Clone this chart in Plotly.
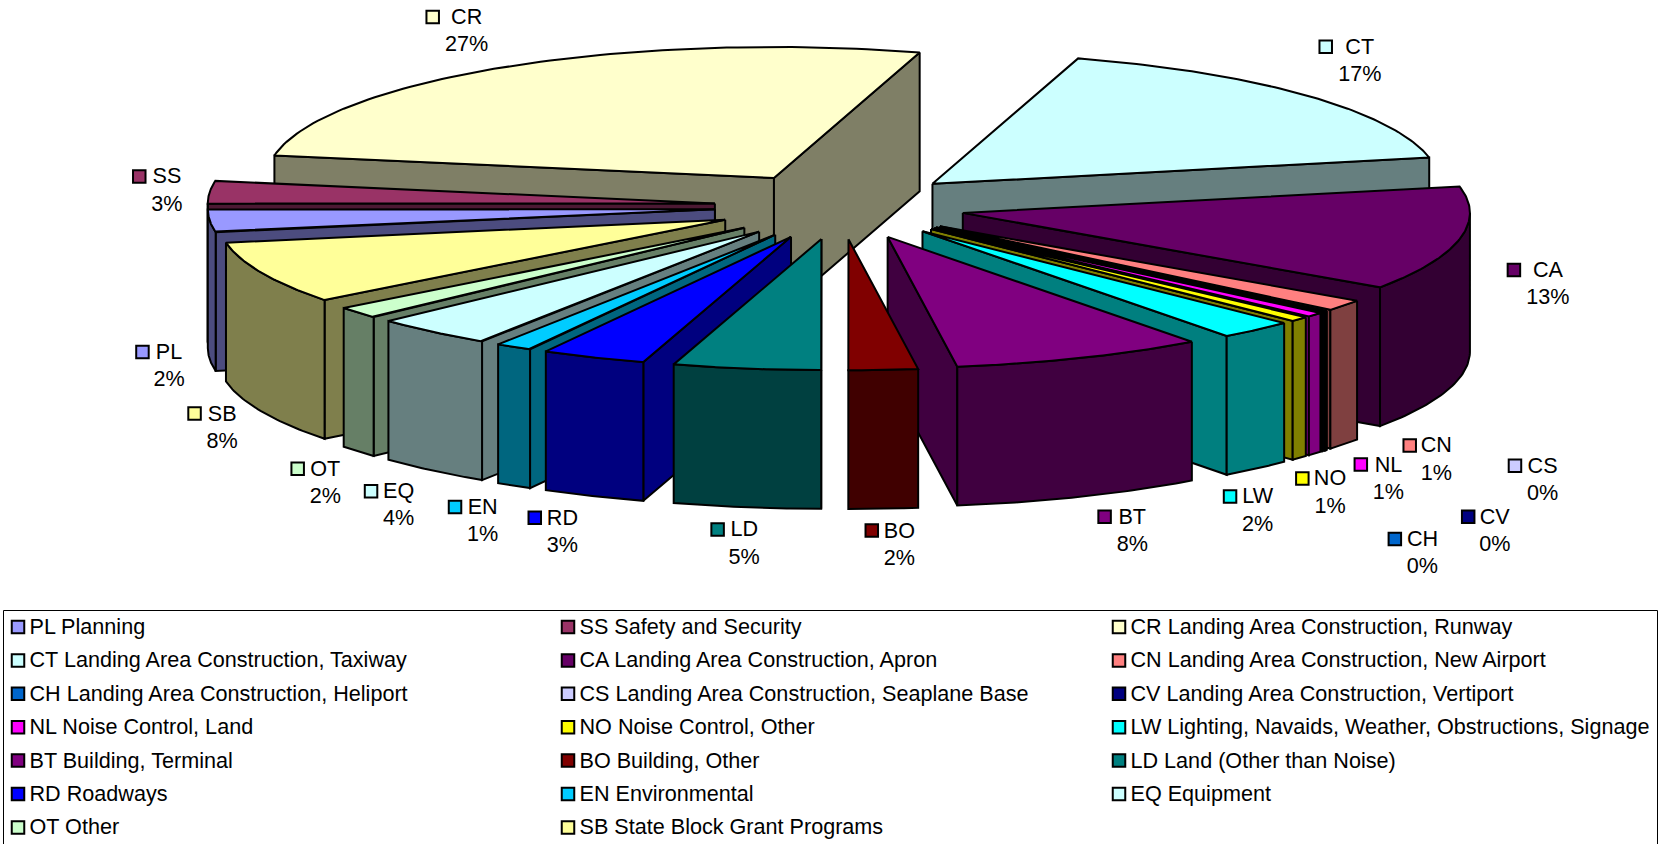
import numpy as np
import plotly.graph_objects as go

# ---------- data ----------
codes = ["PL","SS","CR","CT","CA","CN","CH","CS","CV","NL","NO","LW","BT","BO","LD","RD","EN","EQ","OT","SB"]
names = ["Planning","Safety and Security","Landing Area Construction, Runway","Landing Area Construction, Taxiway",
         "Landing Area Construction, Apron","Landing Area Construction, New Airport","Landing Area Construction, Heliport",
         "Landing Area Construction, Seaplane Base","Landing Area Construction, Vertiport","Noise Control, Land",
         "Noise Control, Other","Lighting, Navaids, Weather, Obstructions, Signage","Building, Terminal","Building, Other",
         "Land (Other than Noise)","Roadways","Environmental","Equipment","Other","State Block Grant Programs"]
values = [2.78,2.78,26.9,17.15,12.85,1.39,0.05,0.05,0.1,0.55,0.6,2.4,8.05,2.2,4.7,3.33,1.17,3.85,1.45,7.7]
percent_labels = ["2%","3%","27%","17%","13%","1%","0%","0%","0%","1%","1%","2%","8%","2%","5%","3%","1%","4%","2%","8%"]
colors = ["#9999FF","#993366","#FFFFCC","#CCFFFF","#660066","#FF8080","#0066CC","#CCCCFF","#000080","#FF00FF",
          "#FFFF00","#00FFFF","#800080","#800000","#008080","#0000FF","#00CCFF","#CCFFFF","#CCFFCC","#FFFF99"]

# ---------- layout constants (page pixels) ----------
S = 1667 / 1568
CX, CY, RADIUS, TILT, EXPLODE, EXPLODE_Y, DEPTH = 790*S, 194*S, 477*S, 0.2583, 118*S, 31.2*S, 130.5*S
START_DEG = -100.1
FONT = "Liberation Sans, Arial, sans-serif"
FS = 21.6
LW = 2
TEXT_DY = 1.6

label_key_x = [134,131,407,1247,1424,1326,1312,1425,1381,1280,1225,1157,1039,820,675,503,428,349,280,183]
label_x     = [159,157,439,1279,1456,1351,1338,1451,1406,1306,1251,1183,1065,846,700,529,454,375,306,209]
label_y     = [331,166,16,44,254,419,507,438,486,437,450,467,486,499,498,487,477,462,441,389]
PCT_DY = 25.5

legend_cols = [18, 568, 1119]
legend_text_dx = 11.5
legend_rows_y0, legend_row_step = 627, 33.4
legend_box = (3.5, 610.5, 1657.5, 850)


def darken(hex_color, f=0.5):
    r, g, b = (int(hex_color[i:i+2], 16) for i in (1, 3, 5))
    return "rgb(%d,%d,%d)" % (r*f, g*f, b*f)


def proj(rad, deg, mid):
    """ground position of a point on a slice, to page pixels"""
    t, m = np.radians(deg), np.radians(mid)
    x = CX + EXPLODE*np.sin(m) + rad*np.sin(t)
    y = CY - EXPLODE_Y*np.cos(m) - TILT*rad*np.cos(t)
    return x, y


fig = go.Figure()


def poly(xs, ys, fill):
    xs, ys = list(xs), list(ys)
    fig.add_trace(go.Scatter(x=xs+xs[:1], y=ys+ys[:1], mode="lines", fill="toself", fillcolor=fill,
                             line=dict(color="black", width=LW), hoverinfo="skip", showlegend=False))


total = sum(values)
edges = START_DEG + np.concatenate([[0], np.cumsum(values)]) / total * 360
slices = []
for i in range(len(values)):
    a0, a1 = edges[i], edges[i+1]
    slices.append((i, a0, a1, (a0+a1)/2))
slices.sort(key=lambda s: -np.cos(np.radians(s[3])))

for i, a0, a1, mid in slices:
    col, dark = colors[i], darken(colors[i])
    ax, ay = proj(0, 0, mid)
    # radial walls facing the viewer
    for edge, normal in ((a0, a0-90), (a1, a1+90)):
        if np.cos(np.radians(normal)) < 0:
            rx, ry = proj(RADIUS, edge, mid)
            poly([ax, rx, rx, ax], [ay, ry, ry+DEPTH, ay+DEPTH], dark)
    # curved outer wall, front half only
    for lo, hi in ((-270, -90), (90, 270)):
        b0, b1 = max(a0, lo), min(a1, hi)
        if b1 > b0:
            ts = np.linspace(b0, b1, 40)
            xs, ys = proj(RADIUS, ts, mid)
            poly(np.r_[xs, xs[::-1]], np.r_[ys, ys[::-1]+DEPTH], dark)
    # top
    ts = np.linspace(a0, a1, 80)
    xs, ys = proj(RADIUS, ts, mid)
    poly(np.r_[ax, xs], np.r_[ay, ys], col)

# data label keys and text
fig.add_trace(go.Scatter(x=[v*S for v in label_key_x], y=[v*S for v in label_y], mode="markers",
                         marker=dict(symbol="square", size=12.5, color=colors, line=dict(color="black", width=2)),
                         hoverinfo="skip", showlegend=False))
fig.add_trace(go.Scatter(x=[v*S for v in label_x], y=[v*S+TEXT_DY for v in label_y], mode="text", text=codes,
                         textposition="middle center", textfont=dict(family=FONT, size=FS, color="black"),
                         hoverinfo="skip", showlegend=False))
fig.add_trace(go.Scatter(x=[v*S for v in label_x], y=[(v+PCT_DY)*S+TEXT_DY for v in label_y], mode="text", text=percent_labels,
                         textposition="middle center", textfont=dict(family=FONT, size=FS, color="black"),
                         hoverinfo="skip", showlegend=False))

# legend
lx = [legend_cols[i % 3] for i in range(len(codes))]
ly = [legend_rows_y0 + (i//3)*legend_row_step for i in range(len(codes))]
fig.add_trace(go.Scatter(x=lx, y=ly, mode="markers",
                         marker=dict(symbol="square", size=12.5, color=colors, line=dict(color="black", width=2)),
                         hoverinfo="skip", showlegend=False))
fig.add_trace(go.Scatter(x=[v+legend_text_dx for v in lx], y=[v+TEXT_DY for v in ly], mode="text",
                         text=[f"{c} {n}" for c, n in zip(codes, names)], textposition="middle right",
                         textfont=dict(family=FONT, size=FS, color="black"), hoverinfo="skip", showlegend=False))

fig.update_layout(
    width=1667, height=844, margin=dict(l=0, r=0, t=0, b=0), paper_bgcolor="white", plot_bgcolor="white",
    xaxis=dict(range=[0, 1667], visible=False, fixedrange=True),
    yaxis=dict(range=[844, 0], visible=False, fixedrange=True),
    shapes=[dict(type="rect", xref="x", yref="y", x0=legend_box[0], y0=legend_box[1], x1=legend_box[2], y1=legend_box[3],
                 line=dict(color="black", width=1), fillcolor="rgba(0,0,0,0)")],
)
fig.write_html("out.html", config={"displayModeBar": False},
               post_script="document.body.style.margin='0';document.body.style.overflow='hidden';")
